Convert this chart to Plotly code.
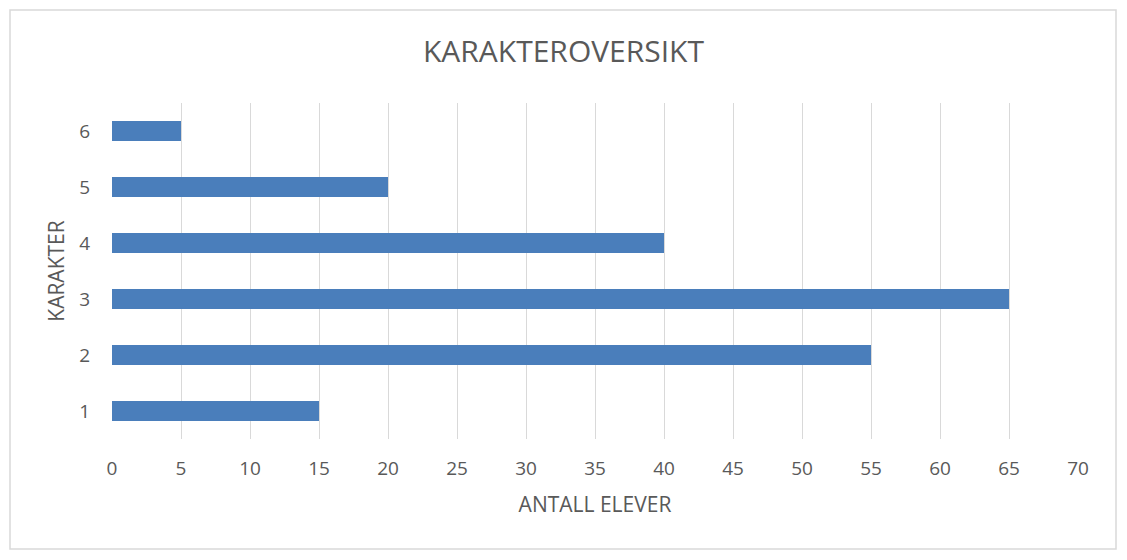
import plotly.graph_objects as go

grades = ["1", "2", "3", "4", "5", "6"]
counts = [15, 55, 65, 40, 20, 5]
x_ticks = list(range(0, 75, 5))

W, H = 1127, 560
L, R, T, B = 112, 1127 - 1078, 103, 560 - 439
pw, ph = W - L - R, H - T - B

def px_to_paper_x(px):
    return (px - L) / pw

def px_to_paper_y(py):
    return (H - B - py) / ph

fig = go.Figure(go.Bar(
    x=counts, y=grades, orientation="h",
    marker=dict(color="#4a7ebb", line=dict(width=0)),
))

txt = "#595959"
fig.update_layout(
    width=W, height=H,
    margin=dict(l=L, r=R, t=T, b=B),
    paper_bgcolor="white", plot_bgcolor="white",
    bargap=0.643,
    showlegend=False,
    font=dict(family="Open Sans", color=txt, size=19),
    title=dict(text="KARAKTEROVERSIKT", x=0.5, xref="container",
               y=1 - 51 / H, yref="container", yanchor="middle", xanchor="center",
               font=dict(size=30, color=txt, family="Open Sans")),
    xaxis=dict(range=[0, 70], tickvals=x_ticks, showgrid=True, gridcolor="#d9d9d9",
               gridwidth=1, zeroline=False, showline=False,
               ticks="outside", ticklen=12, tickcolor="rgba(0,0,0,0)",
               tickfont=dict(size=19, color=txt),
               title=dict(text="ANTALL ELEVER", standoff=17, font=dict(size=21, color=txt))),
    yaxis=dict(type="category", categoryorder="array", categoryarray=grades,
               showgrid=False, zeroline=False, showline=False,
               ticks="outside", ticklen=17, tickcolor="rgba(0,0,0,0)",
               tickfont=dict(size=19, color=txt),
               title=dict(text="KARAKTER", standoff=8, font=dict(size=21, color=txt))),
    shapes=[dict(type="rect", xref="paper", yref="paper",
                 x0=px_to_paper_x(10), x1=px_to_paper_x(1116),
                 y0=px_to_paper_y(549), y1=px_to_paper_y(10),
                 line=dict(color="#d9d9d9", width=1.5), fillcolor="rgba(0,0,0,0)",
                 layer="below")],
)

fig.write_html("out.html")
